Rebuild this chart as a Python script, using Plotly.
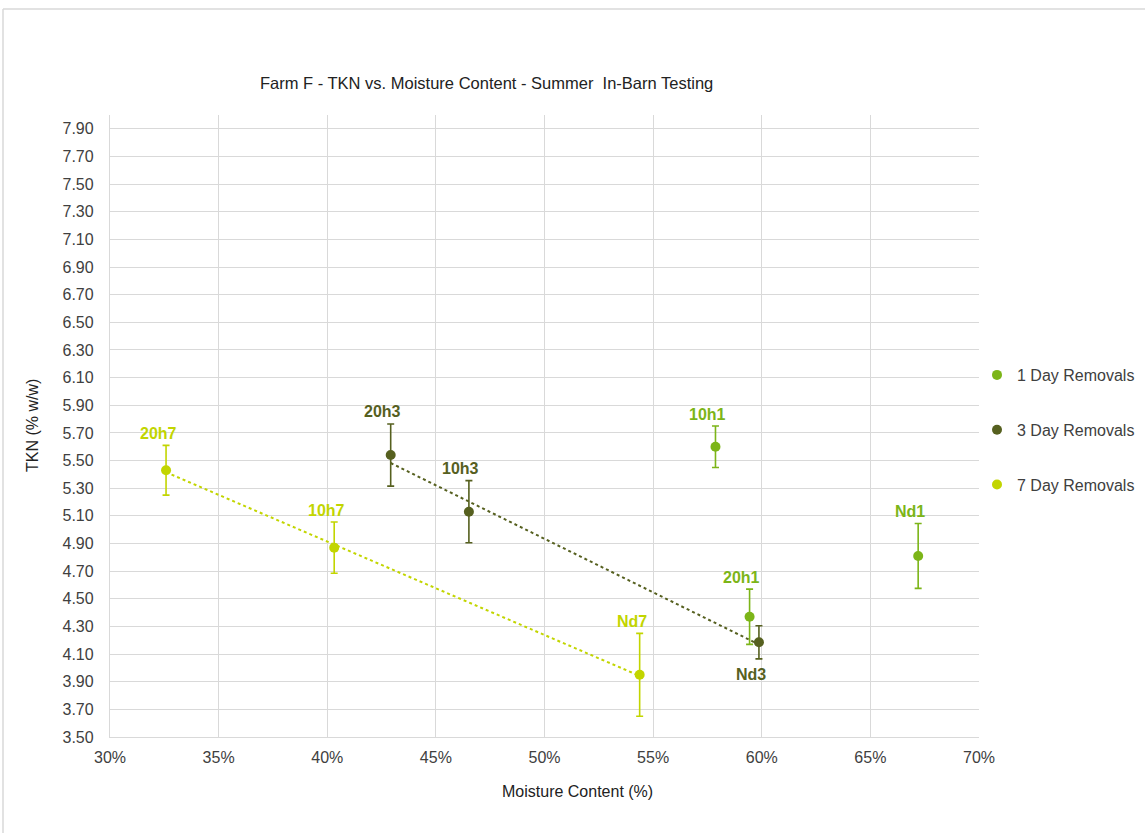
import numpy as np
import plotly.graph_objects as go

# Moisture content (fraction), TKN (% w/w) and error for each removal series
day1_names = ["10h1", "20h1", "Nd1"]
day1_x = [0.5787, 0.5944, 0.6720]
day1_y = [5.60, 4.37, 4.81]
day1_err = [0.15, 0.20, 0.235]

day3_names = ["20h3", "10h3", "Nd3"]
day3_x = [0.4292, 0.4652, 0.5987]
day3_y = [5.54, 5.13, 4.185]
day3_err = [0.225, 0.225, 0.12]

day7_names = ["20h7", "10h7", "Nd7"]
day7_x = [0.3258, 0.4032, 0.5438]
day7_y = [5.43, 4.87, 3.95]
day7_err = [0.18, 0.185, 0.30]

y_ticks = [round(3.5 + 0.2 * i, 2) for i in range(23)]
x_ticks = [0.30, 0.35, 0.40, 0.45, 0.50, 0.55, 0.60, 0.65, 0.70]

C1 = "#7CB518"
C3 = "#56601F"
C7 = "#C2D500"
FONT = "Liberation Sans, Arial, sans-serif"
TXT = "#404040"

series = [
    ("1 Day Removals", day1_names, day1_x, day1_y, day1_err, C1, False),
    ("3 Day Removals", day3_names, day3_x, day3_y, day3_err, C3, True),
    ("7 Day Removals", day7_names, day7_x, day7_y, day7_err, C7, True),
]

# figure size and plot-area margins in pixels
L, R, T, B, W, H = 110, 166, 115, 96, 1145, 833
pw, ph = W - L - R, H - T - B


def px_x(p):
    return (p - L) / pw


def px_y(p):
    return (H - B - p) / ph


fig = go.Figure()
annotations = []

for i, (name, labels, xs, ys, errs, color, trend) in enumerate(series):
    if trend:
        slope, intercept = np.polyfit(xs, ys, 1)
        tx = np.array([min(xs), max(xs)])
        fig.add_trace(go.Scatter(
            x=tx, y=slope * tx + intercept, mode="lines",
            line=dict(color=color, width=2, dash="dot"),
            showlegend=False, hoverinfo="skip",
        ))
    fig.add_trace(go.Scatter(
        x=xs, y=ys, mode="markers", name=name, legendgroup=f"g{i}",
        marker=dict(color=color, size=10),
        error_y=dict(type="data", array=errs, visible=True,
                     color=color, thickness=1.6, width=3.5),
    ))
    for lab, x, y, e in zip(labels, xs, ys, errs):
        below = lab == "Nd3"
        annotations.append(dict(
            x=x, y=(y - e) if below else (y + e), xref="x", yref="y",
            text=f"<b>{lab}</b>", showarrow=False,
            xshift=-8, yshift=-16 if below else 12, yanchor="middle",
            font=dict(family=FONT, size=16, color=color),
        ))

# chart title and axis titles
annotations += [
    dict(text="Farm F - TKN vs. Moisture Content - Summer  In-Barn Testing",
         x=px_x(486), y=px_y(72), xref="paper", yref="paper", showarrow=False,
         font=dict(family=FONT, size=16.5, color="#222222")),
    dict(text="TKN (% w/w)", x=px_x(32), y=px_y(426), xref="paper",
         yref="paper", textangle=-90, showarrow=False, xanchor="center",
         font=dict(family=FONT, size=16, color="#222222")),
    dict(text="Moisture Content (%)", x=px_x(577), y=px_y(802), xref="paper",
         yref="paper", showarrow=False,
         font=dict(family=FONT, size=16, color="#222222")),
]

shapes = [
    dict(type="line", xref="paper", yref="paper", x0=px_x(3), x1=px_x(1145),
         y0=px_y(9), y1=px_y(9), line=dict(color="#d9d9d9", width=1.5)),
    dict(type="line", xref="paper", yref="paper", x0=px_x(3), x1=px_x(3),
         y0=px_y(9), y1=px_y(833), line=dict(color="#d9d9d9", width=1.5)),
]

fig.update_layout(
    width=W, height=H,
    margin=dict(l=L, r=R, t=T, b=B, autoexpand=False),
    paper_bgcolor="white", plot_bgcolor="white",
    font=dict(family=FONT, size=16, color=TXT),
    xaxis=dict(range=[0.30, 0.70], tickvals=x_ticks, tickformat=".0%",
               showgrid=True, gridcolor="#d9d9d9", gridwidth=1.3,
               showline=True, linecolor="#d9d9d9", linewidth=1.3,
               zeroline=False, ticks="", ticklabelstandoff=6,
               tickfont=dict(family=FONT, size=16, color=TXT)),
    yaxis=dict(range=[3.5, 8.0], tickvals=y_ticks, tickformat=".2f",
               showgrid=True, gridcolor="#d9d9d9", gridwidth=1.3,
               showline=True, linecolor="#d9d9d9", linewidth=1.3,
               zeroline=False, ticks="", ticklabelstandoff=12,
               tickfont=dict(family=FONT, size=16, color=TXT)),
    legend=dict(x=px_x(977), y=px_y(358), xanchor="left", yanchor="top",
                xref="paper", yref="paper", tracegroupgap=31,
                itemwidth=30, bgcolor="rgba(0,0,0,0)",
                font=dict(family=FONT, size=16, color=TXT)),
    annotations=annotations,
    shapes=shapes,
)

fig.write_html("out.html")
